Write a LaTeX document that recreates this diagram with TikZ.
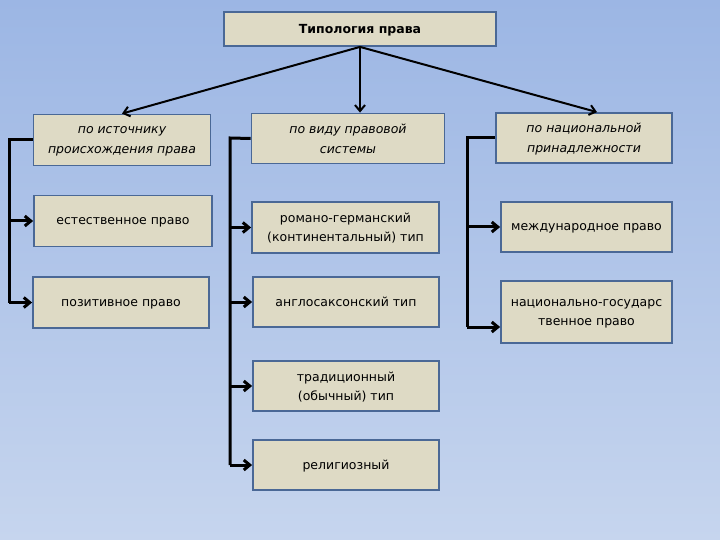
\documentclass[tikz,border=0pt]{standalone}
\usepackage{fontspec}
\setmainfont{DejaVu Sans}
\usetikzlibrary{arrows.meta}
\definecolor{bgtop}{RGB}{156,182,228}
\definecolor{bgbot}{RGB}{198,213,238}
\definecolor{boxfill}{RGB}{222,218,197}
\definecolor{boxline}{RGB}{74,104,150}
\begin{document}
\begin{tikzpicture}[x=1pt, y=-1pt,
    box/.style={draw=boxline, line width=1.8pt, fill=boxfill, align=center, minimum height=50pt, inner sep=2pt, text depth=0pt, font=\fontsize{12.5}{19}\selectfont},
    cat/.style={box, font=\fontsize{12.5}{20}\selectfont\itshape},
    link/.style={-{Straight Barb[length=6pt, width=10pt]}, line width=2pt},
    bus/.style={line width=3pt},
    busarrow/.style={-{Straight Barb[length=6pt, width=10pt]}, line width=3pt}]
    \shade[top color=bgtop, bottom color=bgbot] (0,0) rectangle (720,540);
    % top
    \node[box, minimum width=272pt, minimum height=34pt, font=\fontsize{12.5}{15}\selectfont\bfseries] (typ) at (360,29) {Типология права};
    % categories
    \node[cat, minimum width=177pt, minimum height=51pt] (src) at (122,140) {по источнику\\происхождения права};
    \node[cat, minimum width=193pt] (sys) at (348,138.5) {по виду правовой\\системы};
    \node[cat, minimum width=176pt] (nat) at (584,138) {по национальной\\принадлежности};
    % left column
    \node[box, minimum width=178pt, minimum height=51pt] (est) at (123,221) {естественное право};
    \node[box, minimum width=176pt, minimum height=51pt] (pos) at (121,302.5) {позитивное право};
    % middle column
    \node[box, minimum width=187pt, minimum height=51pt] (rom) at (345.5,227.5) {романо-германский\\(континентальный) тип};
    \node[box, minimum width=186pt] (ang) at (346,302) {англосаксонский тип};
    \node[box, minimum width=186pt] (trad) at (346,386) {традиционный\\(обычный) тип};
    \node[box, minimum width=186pt] (rel) at (346,465) {религиозный};
    % right column
    \node[box, minimum width=171pt] (intl) at (586.5,227) {международное право};
    \node[box, minimum width=171pt, minimum height=62pt] (natst) at (586.5,312) {национально-государс\\твенное право};
    % from top
    \draw[link] (typ.south) -- (src.north);
    \draw[link] (typ.south) -- (typ.south |- sys.north);
    \draw[link] (typ.south) -- ([xshift=13pt]nat.north);
    % buses
    \coordinate (busA) at (9,140);
    \coordinate (busB) at (230,138);
    \coordinate (busC) at (467,138);
    \draw[bus] (src.west) -- (busA) -- (busA |- pos.west);
    \draw[busarrow] (busA |- est.west) -- (est.west);
    \draw[busarrow] (busA |- pos.west) -- (pos.west);
    \draw[bus] (sys.west) -- (busB) -- (busB |- rel.west);
    \draw[busarrow] (busB |- rom.west) -- (rom.west);
    \draw[busarrow] (busB |- ang.west) -- (ang.west);
    \draw[busarrow] (busB |- trad.west) -- (trad.west);
    \draw[busarrow] (busB |- rel.west) -- (rel.west);
    \draw[bus] (nat.west) -- (busC) -- ([yshift=-15pt]busC |- natst.west);
    \draw[busarrow] (busC |- intl.west) -- (intl.west);
    \draw[busarrow] ([yshift=-15pt]busC |- natst.west) -- ([yshift=-15pt]natst.west);
  \end{tikzpicture}
\end{document}
